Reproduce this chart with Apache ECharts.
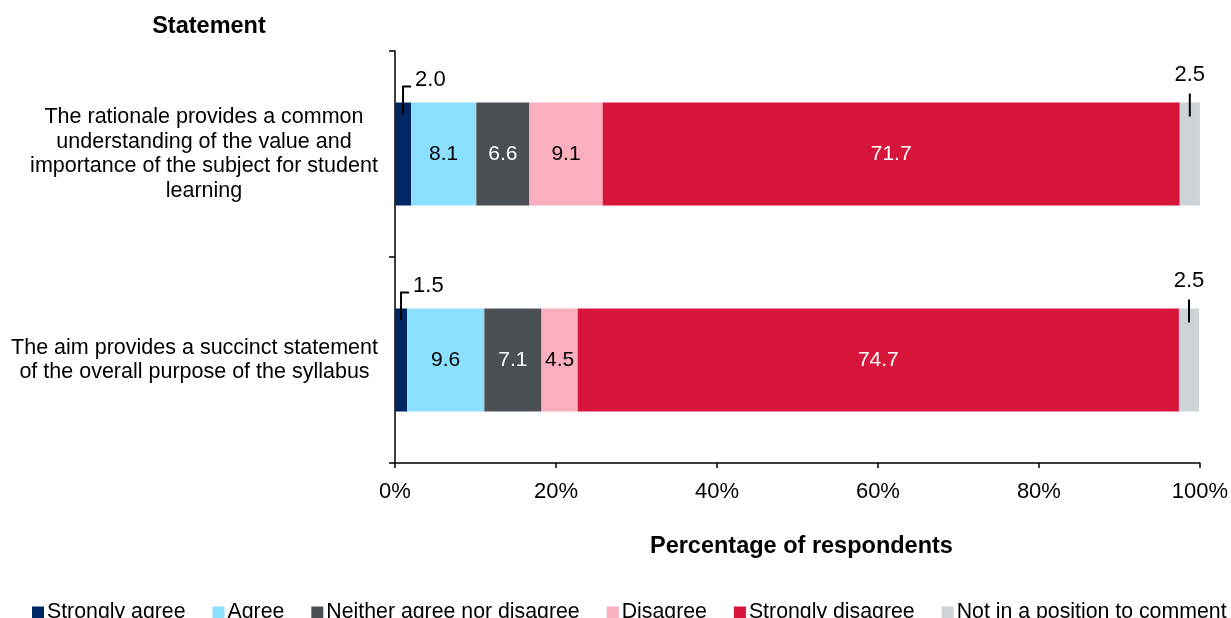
<!DOCTYPE html>
<html>
<head>
<meta charset="utf-8">
<script src="https://cdn.jsdelivr.net/npm/echarts@6/dist/echarts.min.js"></script>
<style>
  html, body { margin: 0; padding: 0; background: #ffffff; }
  #chart { width: 1231px; height: 618px; }
</style>
</head>
<body>
<div id="chart"></div>
<script>
// Survey statements (top to bottom)
const statements = [
  'The rationale provides a common\nunderstanding of the value and\nimportance of the subject for student\nlearning',
  'The aim provides a succinct statement\nof the overall purpose of the syllabus'
];

// Response categories and their colours
const responses = ['Strongly agree', 'Agree', 'Neither agree nor disagree', 'Disagree', 'Strongly disagree', 'Not in a position to comment'];
const colours = ['#002664', '#8CE0FF', '#4A4F54', '#FAAFBE', '#D7153A', '#CDD3D6'];

// Percentage of respondents per response, one value per statement
const stronglyAgree = [2.0, 1.5];
const agree = [8.1, 9.6];
const neither = [6.6, 7.1];
const disagree = [9.1, 4.5];
const stronglyDisagree = [71.7, 74.7];
const notInPosition = [2.5, 2.5];

const xTicks = [0, 20, 40, 60, 80, 100];

const seriesValues = [stronglyAgree, agree, neither, disagree, stronglyDisagree, notInPosition];
// White text on the dark segments, black elsewhere
const labelColours = ['#ffffff', '#000000', '#ffffff', '#000000', '#ffffff', '#000000'];
const FONT = 'Liberation Sans, Arial, sans-serif';
const CAT_FONT_SIZE = 21.5;

// Category labels: lines centred within their own block, block right-aligned to the axis
const measureCtx = document.createElement('canvas').getContext('2d');
measureCtx.font = CAT_FONT_SIZE + 'px ' + FONT;
const catRich = {};
const catFormatted = {};
statements.forEach((s, i) => {
  const lines = s.split('\n');
  const w = Math.ceil(Math.max(...lines.map(l => measureCtx.measureText(l).width)));
  const key = 'c' + i;
  catRich[key] = { width: w, align: 'center', fontSize: CAT_FONT_SIZE, fontFamily: FONT, color: '#000', lineHeight: 24.5 };
  catFormatted[s] = lines.map(l => '{' + key + '|' + l + '}').join('\n');
});

// Segments too narrow for an inside label get a callout above the bar
const SMALL = 3;
const callouts = [];
statements.forEach((_, ci) => {
  let start = 0;
  seriesValues.forEach((vals, si) => {
    const v = vals[ci];
    if (v < SMALL) {
      callouts.push([start + v / 2, ci, v, si === 0 ? 0 : 1]);
    }
    start += v;
  });
});

const barSeries = responses.map((name, si) => ({
  name: name,
  type: 'bar',
  stack: 'total',
  barWidth: '50%',
  itemStyle: { color: colours[si] },
  label: {
    show: true,
    position: 'inside',
    fontFamily: FONT,
    fontSize: 21,
    color: labelColours[si],
    formatter: p => (p.value < SMALL ? '' : p.value.toFixed(1))
  },
  emphasis: { disabled: true },
  data: seriesValues[si]
}));

const calloutSeries = {
  type: 'custom',
  coordinateSystem: 'cartesian2d',
  silent: true,
  encode: { x: 0, y: 1 },
  data: callouts,
  z: 10,
  renderItem: (params, api) => {
    const p = api.coord([api.value(0), api.value(1)]);
    const band = api.size([0, 1])[1];
    const barTop = p[1] - band * 0.25;
    const isStart = api.value(3) === 0;
    const text = api.value(2).toFixed(1);
    if (isStart) {
      return {
        type: 'group',
        children: [
          {
            type: 'polyline',
            shape: { points: [[p[0], barTop + 12], [p[0], barTop - 16], [p[0] + 8, barTop - 16]] },
            style: { stroke: '#000', lineWidth: 2, fill: null }
          },
          {
            type: 'text',
            x: p[0] + 12, y: barTop - 23,
            style: { text: text, fontFamily: FONT, fontSize: 22, fill: '#000', align: 'left', verticalAlign: 'middle' }
          }
        ]
      };
    }
    return {
      type: 'group',
      children: [
        {
          type: 'line',
          shape: { x1: p[0], y1: barTop + 14, x2: p[0], y2: barTop - 9 },
          style: { stroke: '#000', lineWidth: 2 }
        },
        {
          type: 'text',
          x: p[0], y: barTop - 28,
          style: { text: text, fontFamily: FONT, fontSize: 22, fill: '#000', align: 'center', verticalAlign: 'middle' }
        }
      ]
    };
  }
};

const chart = echarts.init(document.getElementById('chart'), null, { renderer: 'canvas' });
chart.setOption({
  animation: false,
  textStyle: { fontFamily: FONT },
  title: {
    text: 'Statement',
    left: 204, top: 10,
    textAlign: 'center',
    textStyle: { fontFamily: FONT, fontSize: 23.5, fontWeight: 'bold', color: '#000' }
  },
  grid: { left: 395, right: 31, top: 51, bottom: 155 },
  legend: {
    data: responses,
    left: 27, top: 597,
    width: 1300,
    icon: 'rect',
    itemWidth: 12, itemHeight: 12,
    itemGap: 27,
    textStyle: { fontFamily: FONT, fontSize: 21.3, color: '#000', padding: [0, 0, 0, -2] },
    selectedMode: false
  },
  xAxis: {
    type: 'value',
    min: 0, max: 100, interval: 20,
    name: 'Percentage of respondents',
    nameLocation: 'middle',
    nameGap: 72,
    nameTextStyle: { fontFamily: FONT, fontSize: 23.5, fontWeight: 'bold', color: '#000', padding: [0, 0, 0, 8] },
    axisLine: { show: true, lineStyle: { color: '#000', width: 1.5 } },
    axisTick: { show: true, length: 5, lineStyle: { color: '#000', width: 1.5 } },
    axisLabel: { fontFamily: FONT, fontSize: 22, color: '#000', margin: 18, formatter: v => xTicks.includes(v) ? v + '%' : '' },
    splitLine: { show: false }
  },
  yAxis: {
    type: 'category',
    inverse: true,
    data: statements,
    axisLine: { show: true, lineStyle: { color: '#000', width: 1.5 } },
    axisTick: { show: true, length: 6, lineStyle: { color: '#000', width: 1.5 } },
    axisLabel: {
      align: 'right',
      margin: 17,
      lineHeight: 24.5,
      formatter: v => catFormatted[v],
      rich: catRich
    }
  },
  series: [...barSeries, calloutSeries]
});
</script>
</body>
</html>
